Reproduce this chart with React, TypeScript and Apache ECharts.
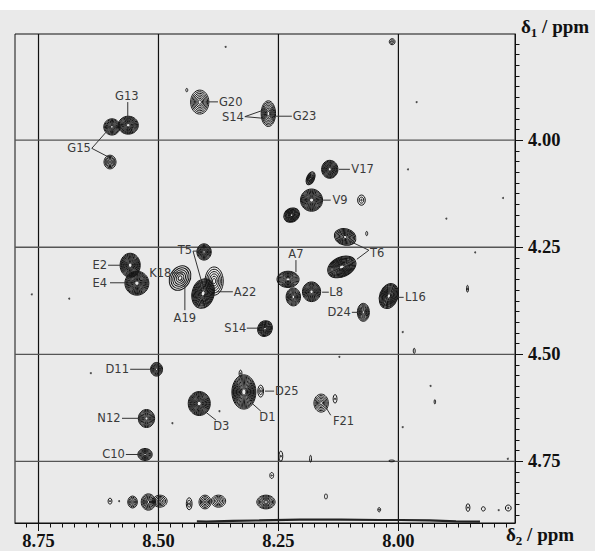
import React, { useEffect, useRef } from "react";
import * as echarts from "echarts";

// Axis extents (ppm)
const X_MIN = 7.757;
const X_MAX = 8.799;
const Y_MIN = 3.752;
const Y_MAX = 4.894;

// Tick values
const xMajor = [8.75, 8.5, 8.25, 8.0];
const yMajor = [4.0, 4.25, 4.5, 4.75];
const xMinor = [
  7.775, 7.8, 7.825, 7.85, 7.875, 7.9, 7.925, 7.95, 7.975, 8.0, 8.025, 8.05, 8.075, 8.1,
  8.125, 8.15, 8.175, 8.2, 8.225, 8.25, 8.275, 8.3, 8.325, 8.35, 8.375, 8.4, 8.425, 8.45,
  8.475, 8.5, 8.525, 8.55, 8.575, 8.6, 8.625, 8.65, 8.675, 8.7, 8.725, 8.75, 8.775,
];
const yMinor = [
  3.775, 3.8, 3.825, 3.85, 3.875, 3.9, 3.925, 3.95, 3.975, 4.0, 4.025, 4.05, 4.075, 4.1,
  4.125, 4.15, 4.175, 4.2, 4.225, 4.25, 4.275, 4.3, 4.325, 4.35, 4.375, 4.4, 4.425, 4.45,
  4.475, 4.5, 4.525, 4.55, 4.575, 4.6, 4.625, 4.65, 4.675, 4.7, 4.725, 4.75, 4.775, 4.8,
  4.825, 4.85, 4.875,
];

// Cross peaks: [δ2, δ1, half-width δ2, half-width δ1, contour levels, tilt (deg)]
const peaks: number[][] = [
  [8.563, 3.965, 0.021, 0.021, 11, 0],
  [8.597, 3.969, 0.017, 0.019, 9, 0],
  [8.601, 4.051, 0.0125, 0.016, 6, 0],
  [8.414, 3.911, 0.019, 0.028, 7, 0],
  [8.441, 3.883, 0.002, 0.004, 1, 0],
  [8.271, 3.938, 0.015, 0.03, 8, 0],
  [8.143, 4.068, 0.017, 0.021, 11, 0],
  [8.183, 4.089, 0.008, 0.016, 6, -25],
  [8.181, 4.14, 0.023, 0.026, 12, 0],
  [8.2225, 4.175, 0.017, 0.016, 9, 30],
  [8.077, 4.14, 0.008, 0.012, 3, 0],
  [8.111, 4.226, 0.023, 0.019, 8, -15],
  [8.118, 4.296, 0.031, 0.023, 12, 25],
  [8.066, 4.218, 0.002, 0.005, 1, 0],
  [8.23, 4.325, 0.023, 0.019, 10, 0],
  [8.219, 4.366, 0.015, 0.021, 9, 0],
  [8.181, 4.354, 0.019, 0.023, 11, 0],
  [8.02, 4.364, 0.019, 0.03, 11, -20],
  [8.073, 4.402, 0.0125, 0.021, 8, 0],
  [8.559, 4.292, 0.021, 0.028, 13, 0],
  [8.545, 4.334, 0.025, 0.028, 13, 0],
  [8.405, 4.261, 0.015, 0.019, 9, 0],
  [8.455, 4.322, 0.021, 0.03, 6, -30],
  [8.407, 4.358, 0.023, 0.035, 12, -15],
  [8.384, 4.329, 0.019, 0.033, 6, 0],
  [8.278, 4.44, 0.015, 0.019, 8, -30],
  [8.504, 4.535, 0.0125, 0.016, 8, 0],
  [8.525, 4.65, 0.017, 0.021, 9, 0],
  [8.528, 4.734, 0.015, 0.014, 8, 0],
  [8.415, 4.615, 0.023, 0.028, 13, 0],
  [8.322, 4.588, 0.025, 0.04, 14, 0],
  [8.329, 4.545, 0.003, 0.008, 2, 0],
  [8.287, 4.586, 0.006, 0.014, 3, 0],
  [8.161, 4.614, 0.015, 0.021, 6, 0],
  [8.132, 4.604, 0.004, 0.01, 2, 0],
  [8.245, 4.738, 0.004, 0.012, 2, 0],
  [8.264, 4.783, 0.004, 0.007, 2, 0],
  [8.183, 4.744, 0.002, 0.008, 1, 0],
  [8.151, 4.832, 0.003, 0.006, 1, 0],
  [8.601, 4.843, 0.004, 0.007, 2, 0],
  [8.554, 4.845, 0.01, 0.014, 5, 0],
  [8.521, 4.845, 0.015, 0.019, 7, 0],
  [8.497, 4.843, 0.015, 0.014, 5, 0],
  [8.436, 4.849, 0.006, 0.014, 3, 0],
  [8.403, 4.845, 0.0125, 0.016, 5, 0],
  [8.375, 4.843, 0.015, 0.014, 5, 0],
  [8.276, 4.845, 0.019, 0.016, 7, 0],
  [8.04, 4.863, 0.003, 0.005, 2, 0],
  [7.855, 4.858, 0.004, 0.009, 2, 0],
  [7.823, 4.861, 0.004, 0.005, 1, 0],
  [7.771, 4.859, 0.006, 0.007, 2, 0],
  [8.013, 3.77, 0.006, 0.007, 3, 0],
  [7.856, 4.347, 0.002, 0.008, 2, 0],
  [7.967, 4.492, 0.002, 0.006, 1, 0],
  [7.924, 4.611, 0.0015, 0.005, 1, 0],
  [8.014, 4.749, 0.006, 0.002, 1, 0],
];

// Isolated noise points [δ2, δ1]
const noiseDots: number[][] = [
  [8.36, 3.782], [7.962, 3.911], [7.98, 4.068], [7.782, 4.135], [7.9, 4.183],
  [7.84, 4.262], [8.764, 4.36], [8.686, 4.37], [8.641, 4.544], [8.471, 4.661],
  [8.373, 4.633], [7.991, 4.448], [8.123, 4.506], [7.933, 4.574], [7.991, 4.67],
  [7.772, 4.744], [7.791, 4.864], [8.582, 4.843],
];

// t1-noise ridge along the bottom edge
const ridgeX = [8.42, 8.4, 8.345, 8.29, 8.205, 8.12, 8.04, 7.995, 7.935, 7.88, 7.83];
const ridgeY = [4.89, 4.891, 4.889, 4.888, 4.886, 4.886, 4.887, 4.887, 4.888, 4.89, 4.891];

// Assignments: [text, δ2, δ1, text alignment]
const peakLabels: [string, number, number, string][] = [
  ["G13", 8.566, 3.896, "center"],
  ["G15", 8.641, 4.019, "right"],
  ["G20", 8.374, 3.9105, "left"],
  ["S14", 8.322, 3.945, "right"],
  ["G23", 8.22, 3.944, "left"],
  ["V17", 8.098, 4.068, "left"],
  ["V9", 8.1375, 4.14, "left"],
  ["T6", 8.059, 4.263, "left"],
  ["A7", 8.2135, 4.266, "center"],
  ["L8", 8.144, 4.355, "left"],
  ["L16", 7.9865, 4.367, "left"],
  ["D24", 8.099, 4.402, "right"],
  ["E2", 8.607, 4.292, "right"],
  ["E4", 8.607, 4.333, "right"],
  ["T5", 8.43, 4.257, "right"],
  ["K18", 8.473, 4.31, "right"],
  ["A19", 8.445, 4.416, "center"],
  ["A22", 8.343, 4.354, "left"],
  ["S14", 8.317, 4.439, "right"],
  ["D11", 8.5615, 4.535, "right"],
  ["N12", 8.579, 4.6495, "right"],
  ["C10", 8.57, 4.734, "right"],
  ["D3", 8.369, 4.668, "center"],
  ["D1", 8.273, 4.646, "center"],
  ["D25", 8.257, 4.586, "left"],
  ["F21", 8.1365, 4.655, "left"],
];

// Leader lines: [δ2 from, δ1 from, δ2 to, δ1 to]
const leaders: number[][] = [
  [8.564, 3.911, 8.564, 3.956],
  [8.639, 4.019, 8.609, 3.981],
  [8.639, 4.019, 8.603, 4.04],
  [8.399, 3.9105, 8.376, 3.9105],
  [8.32, 3.945, 8.282, 3.93],
  [8.32, 3.945, 8.28, 3.949],
  [8.255, 3.944, 8.222, 3.944],
  [8.124, 4.068, 8.101, 4.068],
  [8.157, 4.14, 8.141, 4.14],
  [8.0615, 4.257, 8.101, 4.236],
  [8.0615, 4.257, 8.0865, 4.278],
  [8.2135, 4.28, 8.2135, 4.308],
  [8.159, 4.355, 8.145, 4.355],
  [8.001, 4.367, 7.989, 4.367],
  [8.097, 4.402, 8.084, 4.402],
  [8.605, 4.292, 8.576, 4.292],
  [8.601, 4.333, 8.568, 4.333],
  [8.428, 4.259, 8.418, 4.259],
  [8.428, 4.259, 8.4115, 4.325],
  [8.472, 4.31, 8.449, 4.31],
  [8.445, 4.397, 8.445, 4.339],
  [8.378, 4.354, 8.345, 4.354],
  [8.316, 4.439, 8.293, 4.439],
  [8.559, 4.535, 8.516, 4.535],
  [8.576, 4.6495, 8.5385, 4.6495],
  [8.568, 4.734, 8.5385, 4.734],
  [8.401, 4.6355, 8.38, 4.654],
  [8.305, 4.6145, 8.2865, 4.633],
  [8.278, 4.586, 8.259, 4.586],
  [8.151, 4.624, 8.141, 4.6425],
];

const SERIF = '"Liberation Serif", "Times New Roman", serif';
const LABEL_FONT = '11.5px "DejaVu Sans", sans-serif';

export default function App() {
  const ref = useRef<HTMLDivElement>(null);

  useEffect(() => {
    if (!ref.current) return;
    const chart = echarts.init(ref.current, undefined, { renderer: "svg" });

    const tickLabelStyle = {
      fontFamily: SERIF,
      fontWeight: "bold" as const,
      fontSize: 18.5,
      color: "#111",
    };

    const nameRich = {
      a: { fontFamily: SERIF, fontWeight: "bold", fontSize: 19, fill: "#111", lineHeight: 20, verticalAlign: "bottom" },
      s: { fontFamily: SERIF, fontWeight: "bold", fontSize: 13, fill: "#111", lineHeight: 20, verticalAlign: "bottom", padding: [0, 0, -3, 0] },
    };

    const option: any = {
      animation: false,
      grid: {
        left: 15,
        top: 34,
        right: 80,
        bottom: 28,
        show: true,
        borderColor: "#111",
        borderWidth: 1,
        backgroundColor: "transparent",
        containLabel: false,
        outerBoundsMode: "none",
      },
      xAxis: [
        {
          type: "value",
          inverse: true,
          min: X_MIN,
          max: X_MAX,
          position: "bottom",
          axisLine: { show: true, lineStyle: { color: "#111", width: 1 } },
          axisTick: {
            show: true,
            customValues: xMinor,
            length: 4.5,
            lineStyle: { color: "#111", width: 1 },
          },
          axisLabel: { show: false },
          splitLine: { show: false },
        },
        {
          type: "value",
          inverse: true,
          min: X_MIN,
          max: X_MAX,
          position: "bottom",
          axisLine: { show: false },
          axisTick: {
            show: true,
            customValues: xMajor,
            length: 8,
            lineStyle: { color: "#111", width: 1 },
          },
          axisLabel: {
            show: true,
            customValues: xMajor,
            margin: 8,
            formatter: (v: number) => v.toFixed(2),
            ...tickLabelStyle,
          },
          splitLine: { show: false },
        },
      ],
      yAxis: [
        {
          type: "value",
          inverse: true,
          min: Y_MIN,
          max: Y_MAX,
          position: "right",
          axisLine: { show: true, lineStyle: { color: "#111", width: 1 } },
          axisTick: {
            show: true,
            customValues: yMinor,
            length: 4.5,
            lineStyle: { color: "#111", width: 1 },
          },
          axisLabel: { show: false },
          splitLine: { show: false },
        },
        {
          type: "value",
          inverse: true,
          min: Y_MIN,
          max: Y_MAX,
          position: "right",
          axisLine: { show: false },
          axisTick: {
            show: true,
            customValues: yMajor,
            length: 8,
            lineStyle: { color: "#111", width: 1 },
          },
          axisLabel: {
            show: true,
            customValues: yMajor,
            margin: 13,
            formatter: (v: number) => v.toFixed(2),
            ...tickLabelStyle,
          },
          splitLine: { show: false },
        },
      ],
      graphic: [
        {
          type: "text",
          x: 521,
          y: 16,
          style: { text: "{a|δ}{s|1}{a| / ppm}", rich: nameRich },
        },
        {
          type: "text",
          x: 506,
          y: 524,
          style: { text: "{a|δ}{s|2}{a| / ppm}", rich: nameRich },
        },
      ],
      series: [
        {
          type: "custom",
          name: "vgrid",
          xAxisIndex: 0,
          yAxisIndex: 0,
          silent: true,
          z: 1,
          data: xMajor.map((v) => [v, 4.0]),
          renderItem: (params: any, api: any) => {
            const p = api.coord([api.value(0), api.value(1)]);
            const cs = params.coordSys;
            return {
              type: "line",
              shape: { x1: p[0], y1: cs.y, x2: p[0], y2: cs.y + cs.height },
              style: { stroke: "#111", lineWidth: 1.2 },
            };
          },
        },
        {
          type: "custom",
          name: "hgrid",
          xAxisIndex: 0,
          yAxisIndex: 0,
          silent: true,
          z: 1,
          data: yMajor.map((v) => [8.25, v]),
          renderItem: (params: any, api: any) => {
            const p = api.coord([api.value(0), api.value(1)]);
            const cs = params.coordSys;
            return {
              type: "line",
              shape: { x1: cs.x, y1: p[1], x2: cs.x + cs.width, y2: p[1] },
              style: { stroke: "#555", lineWidth: 1.3 },
            };
          },
        },
        {
          type: "line",
          name: "ridge",
          xAxisIndex: 0,
          yAxisIndex: 0,
          data: ridgeX.map((x, i) => [x, ridgeY[i]]),
          symbol: "none",
          lineStyle: { color: "#222", width: 2.2 },
          z: 2,
        },
        {
          type: "custom",
          name: "peaks",
          xAxisIndex: 0,
          yAxisIndex: 0,
          z: 3,
          data: peaks,
          renderItem: (params: any, api: any) => {
            const c = api.coord([api.value(0), api.value(1)]);
            const s = api.size([api.value(2), api.value(3)]);
            const rx = Math.abs(s[0]);
            const ry = Math.abs(s[1]);
            const n = api.value(4);
            const rot = (api.value(5) * Math.PI) / 180;
            const children: any[] = [];
            for (let i = 0; i < n; i++) {
              const f = n === 1 ? 1 : 1 - (i / (n - 1)) * 0.82;
              children.push({
                type: "ellipse",
                shape: { cx: 0, cy: 0, rx: Math.max(rx * f, 0.6), ry: Math.max(ry * f, 0.6) },
                style: { fill: "none", stroke: "#141414", lineWidth: 1 },
              });
            }
            return { type: "group", x: c[0], y: c[1], rotation: rot, children };
          },
        },
        {
          type: "scatter",
          name: "noise",
          xAxisIndex: 0,
          yAxisIndex: 0,
          z: 3,
          data: noiseDots,
          symbol: "circle",
          symbolSize: 2,
          itemStyle: { color: "#222" },
        },
        {
          type: "custom",
          name: "leaders",
          xAxisIndex: 0,
          yAxisIndex: 0,
          z: 4,
          data: leaders,
          renderItem: (params: any, api: any) => {
            const a = api.coord([api.value(0), api.value(1)]);
            const b = api.coord([api.value(2), api.value(3)]);
            return {
              type: "line",
              shape: { x1: a[0], y1: a[1], x2: b[0], y2: b[1] },
              style: { stroke: "#333", lineWidth: 1 },
            };
          },
        },
        {
          type: "custom",
          name: "labels",
          xAxisIndex: 0,
          yAxisIndex: 0,
          z: 5,
          data: peakLabels.map((l) => [l[1], l[2]]),
          renderItem: (params: any, api: any) => {
            const l = peakLabels[params.dataIndex];
            const p = api.coord([api.value(0), api.value(1)]);
            return {
              type: "text",
              x: p[0],
              y: p[1],
              style: {
                text: l[0],
                x: 0,
                y: 0,
                font: LABEL_FONT,
                fill: "#3a3a3a",
                textAlign: l[3],
                textVerticalAlign: "middle",
              },
            };
          },
        },
      ],
    };

    chart.setOption(option);
    return () => chart.dispose();
  }, []);

  return (
    <div
      style={{
        position: "absolute",
        left: 0,
        top: 0,
        width: 595,
        height: 551,
        background: "linear-gradient(to bottom, #ffffff 0px, #ffffff 10px, #eaeaea 10px, #eaeaea 100%)",
      }}
    >
      <div ref={ref} style={{ width: 595, height: 551 }} />
    </div>
  );
}
